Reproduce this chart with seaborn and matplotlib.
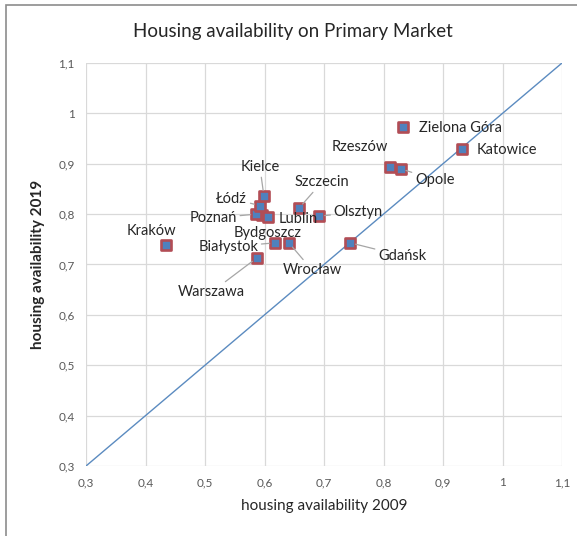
import matplotlib
matplotlib.use("Agg")
import matplotlib.pyplot as plt
from matplotlib.patches import Rectangle
from matplotlib.ticker import FuncFormatter, MultipleLocator
import seaborn as sns
import pandas as pd

# Housing availability index per city, 2009 vs 2019
cities = ["Kraków", "Warszawa", "Białystok", "Wrocław", "Bydgoszcz", "Lublin",
          "Poznań", "Łódź", "Kielce", "Szczecin", "Olsztyn", "Gdańsk",
          "Rzeszów", "Opole", "Zielona Góra", "Katowice"]
avail_2009 = [0.434, 0.587, 0.618, 0.641, 0.596, 0.606, 0.586, 0.592, 0.599,
              0.658, 0.692, 0.744, 0.811, 0.829, 0.833, 0.932]
avail_2019 = [0.739, 0.713, 0.743, 0.743, 0.798, 0.795, 0.800, 0.817, 0.836,
              0.812, 0.796, 0.743, 0.894, 0.890, 0.973, 0.929]

df = pd.DataFrame({"city": cities, "x": avail_2009, "y": avail_2019})

# label placement (offset in pixels) and whether a leader line is drawn
label_offsets = {
    "Kraków": (-14, 14, False),
    "Warszawa": (-45, -34, True),
    "Białystok": (-47, -4, True),
    "Wrocław": (23, -27, True),
    "Bydgoszcz": (6, -18, False),
    "Lublin": (30, -2, False),
    "Poznań": (-43, -4, True),
    "Łódź": (-28, 7, True),
    "Kielce": (-4, 29, True),
    "Szczecin": (23, 26, True),
    "Olsztyn": (39, 4, True),
    "Gdańsk": (52, -13, True),
    "Rzeszów": (-30, 20, False),
    "Opole": (34, -11, True),
    "Zielona Góra": (57, -1, False),
    "Katowice": (45, -1, False),
}

sns.set_theme(style="white")
plt.rcParams["font.family"] = ["Lato", "DejaVu Sans"]

fig = plt.figure(figsize=(5.77, 5.36), dpi=100)
ax = fig.add_axes([86 / 577, 1 - 466 / 536, 476 / 577, 403 / 536])

# chart-area frame
fig.patches.append(Rectangle((6 / 577, -0.1), 1.2, 1 - 5 / 536 + 0.1,
                             transform=fig.transFigure, fill=False,
                             edgecolor="#8c8c8c", linewidth=1.2))

# parity line
ax.plot([0.3, 1.1], [0.3, 1.1], color="#5b8bc0", linewidth=1.0, zorder=2)

sns.scatterplot(data=df, x="x", y="y", ax=ax, marker="s", s=62,
                color="#4f81bd", edgecolor="#b24d55", linewidth=1.9,
                zorder=4, legend=False)

for _, row in df.iterrows():
    dx, dy, leader = label_offsets[row["city"]]
    arrow = dict(arrowstyle="-", color="#a6a6a6", linewidth=0.9,
                 shrinkA=0, shrinkB=4) if leader else None
    ax.annotate(row["city"], xy=(row["x"], row["y"]), xytext=(dx, dy),
                textcoords="offset pixels", ha="center", va="center",
                fontsize=10.5, color="#262626", arrowprops=arrow, zorder=5)

ax.set_xlim(0.3, 1.1)
ax.set_ylim(0.3, 1.1)
ax.xaxis.set_major_locator(MultipleLocator(0.1))
ax.yaxis.set_major_locator(MultipleLocator(0.1))
fmt = FuncFormatter(lambda v, _: (f"{v:.1f}".rstrip("0").rstrip(".")).replace(".", ","))
ax.xaxis.set_major_formatter(fmt)
ax.yaxis.set_major_formatter(fmt)
ax.tick_params(axis="both", labelsize=8.5, colors="#595959", length=0, pad=8)
ax.grid(True, color="#d9d9d9", linewidth=0.9)
for s in ax.spines.values():
    s.set_visible(False)

ax.set_xlabel("housing availability 2009", fontsize=11, color="#262626", labelpad=8)
ax.set_ylabel("housing availability 2019", fontsize=11, color="#262626",
              fontweight="bold", labelpad=10)
fig.text(293 / 577, 1 - 32 / 536, "Housing availability on Primary Market",
         ha="center", va="center", fontsize=13.5, color="#262626")

fig.savefig("out.png", dpi=100)
